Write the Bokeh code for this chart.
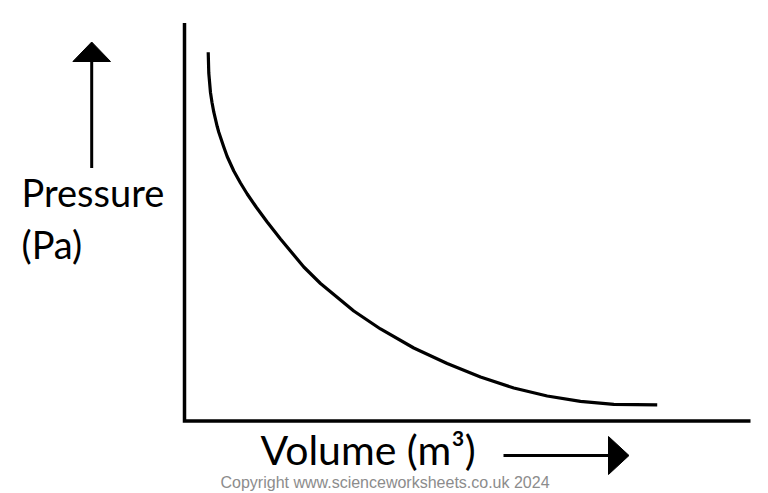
from bokeh.plotting import figure
from bokeh.models import Range1d, Label
from bokeh.embed import file_html
from bokeh.resources import INLINE

# ---- data (arbitrary units) ----
volume = [0.419, 0.429, 0.459, 0.486, 0.518, 0.578, 0.606, 0.694, 0.754,
          0.871, 0.989, 1.108, 1.272, 1.461, 1.696, 2.108, 2.403, 2.991,
          3.463, 4.051, 4.641, 5.230, 5.818, 6.408, 6.996, 7.585, 8.352]
pressure = [9.266, 8.744, 8.254, 8.003, 7.759, 7.399, 7.256, 6.884, 6.646,
            6.281, 5.980, 5.704, 5.364, 5.000, 4.573, 3.869, 3.455, 2.764,
            2.312, 1.834, 1.445, 1.106, 0.829, 0.628, 0.495, 0.420, 0.407]
axis_max_volume = 10
axis_max_pressure = 10
y_label_lines = ["Pressure", "(Pa)"]
x_label = "Volume (m\u00b3)"
copyright_text = "Copyright www.scienceworksheets.co.uk 2024"

# ---- layout helpers (picture pixel -> data units) ----
W, H = 768, 493
OX, OY = 184.0, 420.5          # picture position of the origin
SX, SY = 56.6, 39.8            # pixels per data unit
BASE_SHIFT = 0.44              # empirical baseline correction (em)


def px(x):
    return (x - OX) / SX


def py(y):
    return (OY - y) / SY


def dx(n):
    return n / SX


def dy(n):
    return n / SY


p = figure(width=W, height=H, output_backend="svg", toolbar_location=None,
           x_range=Range1d(px(0), px(W)), y_range=Range1d(py(H), py(0)),
           min_border=0, x_axis_type=None, y_axis_type=None)
p.grid.visible = False
p.outline_line_color = None
p.background_fill_color = "white"
p.border_fill_color = "white"

# axes drawn as lines
p.line([0, 0, axis_max_volume], [axis_max_pressure, 0, 0], line_color="black",
       line_width=3.5, line_join="miter", line_cap="butt")

# curve
p.line(volume, pressure, line_color="black", line_width=3.2, line_join="round",
       line_cap="butt")

# up arrow (pressure)
ax = px(91.2)
p.line([ax, ax], [py(167.5), py(60)], line_color="black", line_width=3)
p.patch([ax - dx(18.8), ax, ax + dx(18.8)], [py(61), py(41.5), py(61)],
        fill_color="black", line_color="black", line_width=1)

# right arrow (volume)
ay = py(455)
p.line([px(503), px(610)], [ay, ay], line_color="black", line_width=3)
p.patch([px(608), px(628.5), px(608)], [ay + dy(19), ay, ay - dy(19)],
        fill_color="black", line_color="black", line_width=1)


def label(x, baseline, text, font, size, color="black"):
    p.add_layout(Label(x=px(x), y=py(baseline - BASE_SHIFT * size), text=text,
                       text_font=font, text_font_size=f"{size}px",
                       text_color=color, text_baseline="alphabetic",
                       text_align="left"))


FONT = "Lato"
for i, t in enumerate(y_label_lines):
    label(21, 208 + 52 * i, t, FONT, 38)

label(260, 467, x_label, FONT, 41)
label(220, 489, copyright_text, "Liberation Sans", 16, "#8c8c8c")

open("out.html", "w").write(file_html(p, INLINE))
